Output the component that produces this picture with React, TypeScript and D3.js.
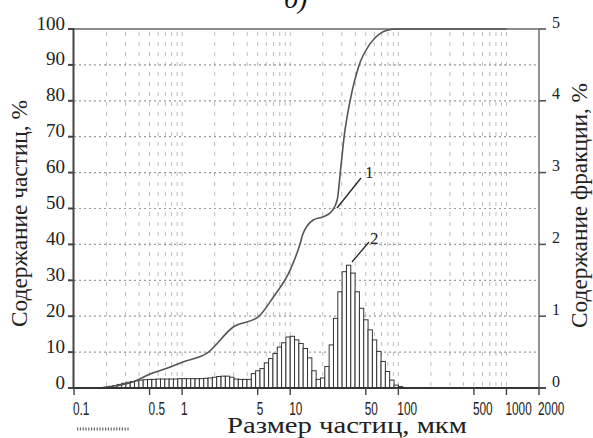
import React from 'react';
import * as d3 from 'd3';

// Histogram channel edges (µm) and fraction content (%) per channel
const binEdges = [
  0.1905, 0.2089, 0.2291, 0.2512, 0.2754, 0.302, 0.3311, 0.3631, 0.3981, 0.4365,
  0.4786, 0.5248, 0.5754, 0.631, 0.6918, 0.7586, 0.8318, 0.912, 1.0, 1.096,
  1.202, 1.318, 1.445, 1.585, 1.738, 1.905, 2.089, 2.291, 2.512, 2.754,
  3.02, 3.311, 3.631, 3.981, 4.365, 4.786, 5.248, 5.754, 6.31, 6.918,
  7.586, 8.318, 9.12, 10.0, 10.96, 12.02, 13.18, 14.45, 15.85, 17.38,
  19.05, 20.89, 22.91, 25.12, 27.54, 30.2, 33.11, 36.31, 39.81, 43.65,
  47.86, 52.48, 57.54, 63.1, 69.18, 75.86, 83.18, 91.2, 100.0, 109.6,
];
const binValues = [
  0.01, 0.02, 0.035, 0.05, 0.065, 0.08, 0.09, 0.1, 0.11, 0.115,
  0.12, 0.12, 0.125, 0.125, 0.125, 0.125, 0.125, 0.13, 0.13, 0.13,
  0.13, 0.13, 0.13, 0.135, 0.14, 0.15, 0.16, 0.165, 0.165, 0.15,
  0.125, 0.12, 0.12, 0.12, 0.2, 0.24, 0.27, 0.35, 0.41, 0.48,
  0.57, 0.63, 0.71, 0.72, 0.67, 0.62, 0.55, 0.42, 0.24, 0.12,
  0.14, 0.3, 0.6, 0.97, 1.34, 1.62, 1.71, 1.6, 1.34, 1.11,
  0.95, 0.81, 0.67, 0.51, 0.37, 0.23, 0.11, 0.04, 0.02,
];

// Cumulative curve (µm, %)
const cumSizes = [0.174, 0.202, 0.267, 0.367, 0.506, 0.722, 1.0, 1.7, 2.97, 5.05, 6.96, 10, 12.4, 13.0, 16.3, 20.2, 24, 27.2, 29.4, 31.8, 35.9, 42.9, 55.1, 68.1, 80.8, 95, 1000];
const cumValues = [0, 0.3, 0.8, 1.9, 3.9, 5.5, 7.2, 9.7, 17.0, 19.8, 25.3, 32.9, 40.4, 42.6, 46.8, 47.7, 49.1, 52.4, 61.6, 70.9, 80.2, 89.5, 96, 98.8, 99.7, 100, 100];

const leftTicks = [0, 10, 20, 30, 40, 50, 60, 70, 80, 90, 100];
const rightTicks = [0, 1, 2, 3, 4, 5];
const xTickValues = [0.1, 0.5, 1, 5, 10, 50, 100, 500, 1000, 2000];
const xTickLabels = ['0.1', '0.5', '1', '5', '10', '50', '100', '500', '1000', '2000'];
const vGridValues = [
  0.2, 0.3, 0.4, 0.5, 0.6, 0.7, 0.8, 0.9, 1,
  2, 3, 4, 5, 6, 7, 8, 9, 10,
  20, 30, 40, 50, 60, 70, 80, 90, 100,
  200, 300, 400, 500, 600, 700, 800, 900, 1000,
];
const hGridValues = [10, 20, 30, 40, 50, 60, 70, 80, 90];

const W = 593;
const H = 438;
const serif = '"Liberation Serif", "Times New Roman", serif';

export default function App() {
  const x = d3.scaleLog().domain([0.1, 2000]).range([74, 539]);
  const yL = d3.scaleLinear().domain([0, 100]).range([388, 29]);
  const yR = d3.scaleLinear().domain([0, 5]).range([388, 29]);

  const line = d3
    .line<number>()
    .x((_, i) => x(cumSizes[i]))
    .y((_, i) => yL(cumValues[i]))
    .curve(d3.curveMonotoneX);
  const pathD = line(cumValues) || '';

  const [x0, x1] = x.range();
  const [yb, yt] = yL.range();

  return (
    <svg
      width={W}
      height={H}
      viewBox={`0 0 ${W} ${H}`}
      style={{ position: 'absolute', left: 0, top: 0, background: '#fff' }}
    >
      <rect x={0} y={0} width={W} height={H} fill="#fff" />
      {/* title */}
      <text x={284} y={8} fontFamily={serif} fontStyle="italic" fontSize={28} fill="#111">
        б)
      </text>

      {/* vertical grid */}
      {vGridValues.map((v) => (
        <line
          key={'vg' + v}
          x1={x(v)}
          x2={x(v)}
          y1={yt + 3}
          y2={yb}
          stroke="#bdbdbd"
          strokeWidth={1}
          strokeDasharray="4,6"
        />
      ))}
      {/* horizontal grid */}
      {hGridValues.map((v) => (
        <line
          key={'hg' + v}
          x1={x0}
          x2={x1}
          y1={yL(v)}
          y2={yL(v)}
          stroke="#9a9a9a"
          strokeWidth={1.2}
          strokeDasharray="2,3"
        />
      ))}

      {/* histogram bars */}
      {binValues.map((v, i) => {
        const bx0 = x(binEdges[i]);
        const bx1 = x(binEdges[i + 1]);
        return (
          <rect
            key={'b' + i}
            x={bx0}
            width={bx1 - bx0}
            y={yR(v)}
            height={yR(0) - yR(v)}
            fill="#fff"
            stroke="#333"
            strokeWidth={1}
          />
        );
      })}

      {/* frame */}
      <line x1={x1} x2={x1} y1={yt} y2={yb} stroke="#777" strokeWidth={1.6} />
      <line x1={x0} x2={x1} y1={yt} y2={yt} stroke="#666" strokeWidth={1.6} />

      {/* cumulative curve */}
      <path d={pathD} fill="none" stroke="#555" strokeWidth={1.6} />

      <line x1={x0 - 0.5} x2={x0 - 0.5} y1={yt - 1} y2={yb + 1} stroke="#444" strokeWidth={2} />
      <line x1={x0 - 1} x2={x1 + 7} y1={yb} y2={yb} stroke="#333" strokeWidth={2.2} />

      {/* left ticks and labels */}
      {leftTicks.map((t) => (
        <g key={'lt' + t}>
          <line x1={x0 - 6} x2={x0} y1={yL(t)} y2={yL(t)} stroke="#444" strokeWidth={2} />
          <text
            x={65}
            y={yL(t) + 0.5}
            textAnchor="end"
            fontFamily={serif}
            fontSize={19}
            fill="#222"
          >
            {t}
          </text>
        </g>
      ))}

      {/* right ticks and labels */}
      {rightTicks.map((t) => (
        <g key={'rt' + t}>
          <line x1={x1} x2={x1 + 7} y1={yR(t)} y2={yR(t)} stroke="#555" strokeWidth={1.6} />
          <text x={552} y={yR(t) - 1.5} fontFamily={serif} fontSize={16} fill="#222">
            {t}
          </text>
        </g>
      ))}

      {/* bottom ticks and labels */}
      {xTickValues.map((v, i) => (
        <g key={'xt' + v}>
          <line x1={x(v)} x2={x(v)} y1={yb} y2={yb + 7} stroke="#444" strokeWidth={1.4} />
          <text
            transform={`translate(${x(v) - 1},414.5) scale(0.64,1)`}
            fontFamily='"Liberation Sans", Arial, sans-serif'
            fontSize={18.5}
            fill="#222"
          >
            {xTickLabels[i]}
          </text>
        </g>
      ))}

      {/* dotted mark under first label */}
      <line x1={77} x2={130} y1={429} y2={429} stroke="#666" strokeWidth={3} strokeDasharray="1.2,1.6" />

      {/* curve labels */}
      <line x1={337} y1={208} x2={361} y2={178} stroke="#222" strokeWidth={1.3} />
      <text x={365} y={178} fontFamily={serif} fontSize={17} fill="#222">1</text>
      <line x1={352} y1={262} x2={369} y2={242} stroke="#222" strokeWidth={1.3} />
      <text x={370} y={244} fontFamily={serif} fontSize={17} fill="#222">2</text>

      {/* axis titles */}
      <text
        transform="translate(27,213.5) rotate(-90)"
        textAnchor="middle"
        fontFamily={serif}
        fontSize={23}
        fill="#222"
        textLength={227}
        lengthAdjust="spacingAndGlyphs"
      >
        Содержание частиц, %
      </text>
      <text
        transform="translate(587,205.5) rotate(-90)"
        textAnchor="middle"
        fontFamily={serif}
        fontSize={23}
        fill="#222"
        textLength={245}
        lengthAdjust="spacingAndGlyphs"
      >
        Содержание фракции, %
      </text>
      <text
        x={227}
        y={432.5}
        fontFamily={serif}
        fontSize={22.5}
        fill="#222"
        textLength={240}
        lengthAdjust="spacingAndGlyphs"
      >
        Размер частиц, мкм
      </text>
    </svg>
  );
}
